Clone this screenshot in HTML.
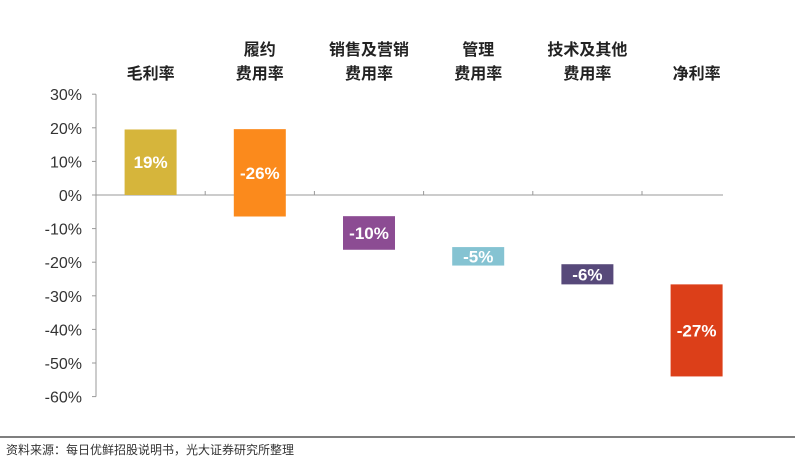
<!DOCTYPE html>
<html><head><meta charset="utf-8"><style>
body{margin:0;background:#fff;}
svg{display:block;font-family:"Liberation Sans","Noto Sans CJK SC",sans-serif;}
</style></head><body>
<svg id="c" width="800" height="460"></svg>
<script>
const categories=[["毛利率"],["履约","费用率"],["销售及营销","费用率"],["管理","费用率"],["技术及其他","费用率"],["净利率"]];
const values=[19.5,-26,-10,-5.5,-6,-27.4];
const starts=[0,19.6,-6.3,-15.5,-20.6,-26.6];
const valueLabels=["19%","-26%","-10%","-5%","-6%","-27%"];
const colors=["#d6b53b","#fb8a1c","#8c4c93","#85c3d2","#57497a","#dc3f19"];
const yTicks=[30,20,10,0,-10,-20,-30,-40,-50,-60];
const NS="http://www.w3.org/2000/svg";
const svg=document.getElementById('c');
const x0=96,catW=109.2,y0=195,pp=3.36;
const y=v=>y0-v*pp;
const cx=i=>x0+catW*(i+0.5);
function mk(t,a,p){const e=document.createElementNS(NS,t);for(const k in a)e.setAttribute(k,a[k]);(p||svg).appendChild(e);return e;}
let e=mk('line',{x1:x0,y1:y(30),x2:x0,y2:y(-60),stroke:'#999','stroke-width':1});


yTicks.forEach(t=>{
  let l=mk('line',{x1:x0-4,y1:y(t),x2:x0,y2:y(t),stroke:'#999'});
  
  
  let tx=mk('text',{x:82,y:y(t)+6,'text-anchor':'end','font-size':16,fill:'#333'});
  tx.textContent=t+'%';
  
  
});
e=mk('line',{x1:x0,y1:y0,x2:723,y2:y0,stroke:'#999'});


for(let i=1;i<categories.length;i++){
  let l=mk('line',{x1:x0+catW*i,y1:y0-4,x2:x0+catW*i,y2:y0,stroke:'#999'});
  
  
}
categories.forEach((c,i)=>{
  const g=mk('text',{'text-anchor':'middle','font-size':16,fill:'#222','font-weight':'bold'});
  
  
  c.forEach((ln,j)=>{const ts=mk('tspan',{x:cx(i),y:79-(c.length-1-j)*24},g);ts.textContent=ln;});
  const a=starts[i],b=starts[i]+values[i];
  const top=y(Math.max(a,b)),bot=y(Math.min(a,b));
  const r=mk('rect',{x:cx(i)-26,y:top,width:52,height:bot-top,fill:colors[i]});
  
  
  const t=mk('text',{x:cx(i),y:(top+bot)/2+6,'text-anchor':'middle','font-size':17,fill:'#fff','font-weight':'bold'});
  t.textContent=valueLabels[i];
  
  
});
e=mk('line',{x1:0,y1:437,x2:795,y2:437,stroke:'#555','stroke-width':1.5});


e=mk('text',{x:6,y:454,'font-size':12,fill:'#333'});
e.textContent='资料来源：每日优鲜招股说明书，光大证券研究所整理';


</script>
</body></html>
